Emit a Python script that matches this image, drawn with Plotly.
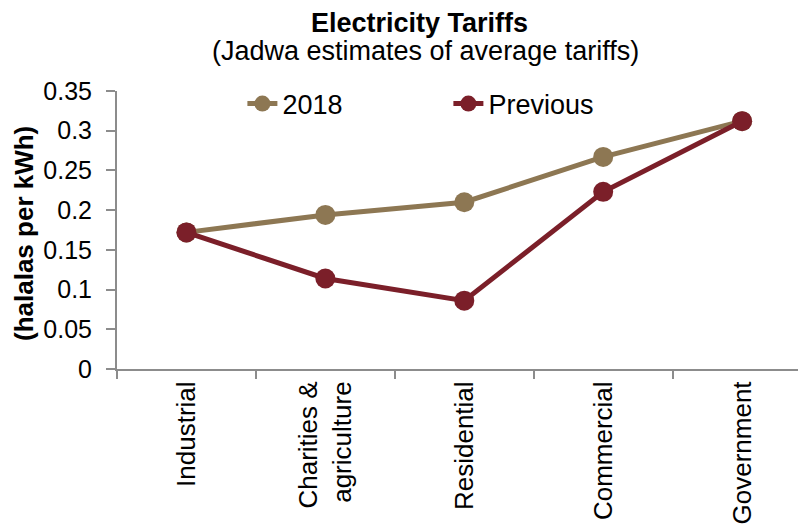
import plotly.graph_objects as go

# Electricity tariffs by sector (halalas per kWh)
sectors = ["Industrial", "Charities &<br>agriculture", "Residential", "Commercial", "Government"]
tariff_2018 = [0.172, 0.194, 0.210, 0.267, 0.312]
tariff_previous = [0.172, 0.114, 0.086, 0.223, 0.312]

col_2018 = "#8D7753"
col_prev = "#7B1F29"
axis_col = "#8C8C8C"
font_family = "Liberation Sans, Arial, sans-serif"

# the page body adds an 8px offset, so margins are trimmed by 8px
L, T, B, R = 109, 83, 170, 8
plot_w = 806 - L - R
plot_h = 531 - T - B


def px_x(sx):
    # screen x -> paper x
    return (sx - 8 - L) / plot_w


def px_y(sy):
    # screen y -> paper y
    return (531 - B - (sy - 8)) / plot_h


fig = go.Figure()
fig.add_trace(go.Scatter(x=sectors, y=tariff_2018, name="2018", mode="lines+markers",
                         line=dict(color=col_2018, width=5),
                         marker=dict(color=col_2018, size=20)))
fig.add_trace(go.Scatter(x=sectors, y=tariff_previous, name="Previous", mode="lines+markers",
                         line=dict(color=col_prev, width=5),
                         marker=dict(color=col_prev, size=20)))

# title pinned to the top edge of the figure so it is never clipped
fig.add_annotation(text="<b>Electricity Tariffs</b>", xref="paper", yref="paper",
                   x=px_x(419), y=px_y(8), showarrow=False, borderpad=0, borderwidth=0,
                   xanchor="center", yanchor="top", font=dict(size=27))
fig.add_annotation(text="(Jadwa estimates of average tariffs)", xref="paper", yref="paper",
                   x=px_x(425), y=px_y(51), showarrow=False, borderpad=0, borderwidth=0,
                   xanchor="center", yanchor="middle", font=dict(size=27))
fig.add_annotation(text="<b>(halalas per kWh)</b>", xref="paper", yref="paper",
                   x=px_x(24), y=px_y(233), showarrow=False, textangle=-90,
                   xanchor="center", yanchor="middle", font=dict(size=26))

fig.update_layout(
    width=806, height=531,
    paper_bgcolor="white", plot_bgcolor="white",
    font=dict(family=font_family, size=26, color="black"),
    margin=dict(l=L, r=R, t=T, b=B, autoexpand=False),
    showlegend=True,
    legend=dict(orientation="h", x=0.182, xanchor="left", y=px_y(104), yanchor="middle",
                bgcolor="rgba(0,0,0,0)", entrywidth=161, entrywidthmode="pixels",
                font=dict(size=27)),
)

fig.update_xaxes(
    type="category", range=[-0.5, 4.46], showgrid=False, zeroline=False,
    showline=True, linecolor=axis_col, linewidth=2, automargin=False,
    ticks="outside", tickson="boundaries", ticklen=8, tickcolor=axis_col, tickwidth=2,
    tickangle=-90, tickfont=dict(size=26),
)
fig.update_yaxes(
    range=[0, 0.35], dtick=0.05, tickformat="~g", showgrid=False, zeroline=False,
    showline=True, linecolor=axis_col, linewidth=2, automargin=False,
    ticks="outside", ticklen=9, tickcolor=axis_col, tickwidth=2,
    ticklabelstandoff=9, tickfont=dict(size=25),
)

fig.write_html("out.html")
